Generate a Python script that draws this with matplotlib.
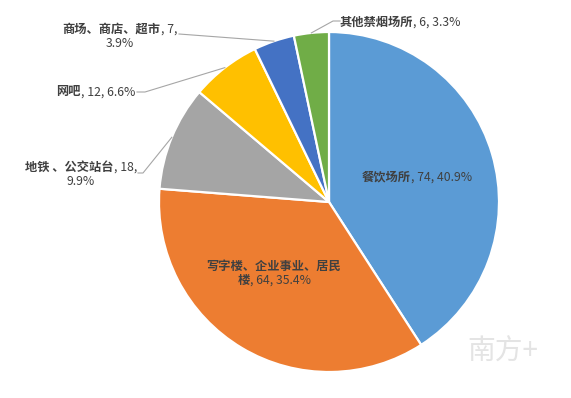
import numpy as np
import matplotlib
matplotlib.use("Agg")
import matplotlib.pyplot as plt
from matplotlib.offsetbox import TextArea, HPacker, VPacker, AnnotationBbox

plt.rcParams['font.family'] = ['Noto Sans CJK SC', 'DejaVu Sans']

# data
names = ['餐饮场所', '写字楼、企业事业、居民楼', '地铁、公交站台', '网吧', '商场、商店、超市', '其他禁烟场所']
counts = [74, 64, 18, 12, 7, 6]
pcts = ['40.9%', '35.4%', '9.9%', '6.6%', '3.9%', '3.3%']
colors = ['#5B9BD5', '#ED7D31', '#A5A5A5', '#FFC000', '#4472C4', '#70AD47']

W, H = 571, 398
CX, CY, R = 329, 202, 170   # pie centre / radius in image pixels
TXT = '#404040'
FS = 8.8

fig = plt.figure(figsize=(W / 100, H / 100), dpi=100)
ax = fig.add_axes([(CX - R) / W, (H - CY - R) / H, 2 * R / W, 2 * R / H])

wedges, _ = ax.pie(counts, colors=colors, startangle=90, counterclock=False,
                   radius=1.0, wedgeprops=dict(edgecolor='white', linewidth=1.6))
ax.set_xlim(-1, 1)
ax.set_ylim(-1, 1)
ax.axis('off')


def px2data(px, py):
    return (px - CX) / R, (CY - py) / R


def label_box(lines):
    # lines: list of [(text, bold), ...]
    rows = []
    for segs in lines:
        kids = [TextArea(t, textprops=dict(color=TXT, fontsize=FS,
                                          fontweight='bold' if b else 'normal'))
                for t, b in segs]
        rows.append(HPacker(children=kids, pad=0, sep=0, align='baseline'))
    return VPacker(children=rows, pad=0, sep=1, align='center')


# label layout: (lines, centre in image px, leader end points in image px or None)
layout = {
    0: ([[(names[0], True), (', %d, %s' % (counts[0], pcts[0]), False)]], (417, 177), None),
    1: ([[('写字楼、企业事业、居民', True)], [('楼', True), (', %d, %s' % (counts[1], pcts[1]), False)]],
        (274, 273), None),
    2: ([[('地铁 、公交站台', True), (', %d,' % counts[2], False)], [(pcts[2], False)]],
        (81, 174), [(143, 173), (138, 173)]),
    3: ([[(names[3], True), (', %d, %s' % (counts[3], pcts[3]), False)]], (96, 92),
        [(145, 92), (137, 92)]),
    4: ([[(names[4], True), (', %d,' % counts[4], False)], [(pcts[4], False)]],
        (120, 36), [(179, 34)]),
    5: ([[(names[5], True), (', %d, %s' % (counts[5], pcts[5]), False)]], (400, 22),
        [(333, 21), (340, 21)]),
}

for i, w in enumerate(wedges):
    lines, (lx, ly), leader = layout[i]
    box = label_box(lines)
    ab = AnnotationBbox(box, px2data(lx, ly), xycoords='data', frameon=False,
                        box_alignment=(0.5, 0.5), annotation_clip=False)
    ax.add_artist(ab)
    if leader:
        # leader starts on the wedge edge at its mid angle
        mid = np.deg2rad((w.theta1 + w.theta2) / 2)
        xs = [np.cos(mid)]
        ys = [np.sin(mid)]
        for px, py in leader:
            dx, dy = px2data(px, py)
            xs.append(dx)
            ys.append(dy)
        ax.plot(xs, ys, color='#A6A6A6', lw=0.8, clip_on=False)

# watermark
fig.text(503 / W, 1 - 352 / H, '南方+', fontsize=20, color='#E4E4E4',
         ha='center', va='center', style='italic')

fig.savefig('out.png', dpi=100)
